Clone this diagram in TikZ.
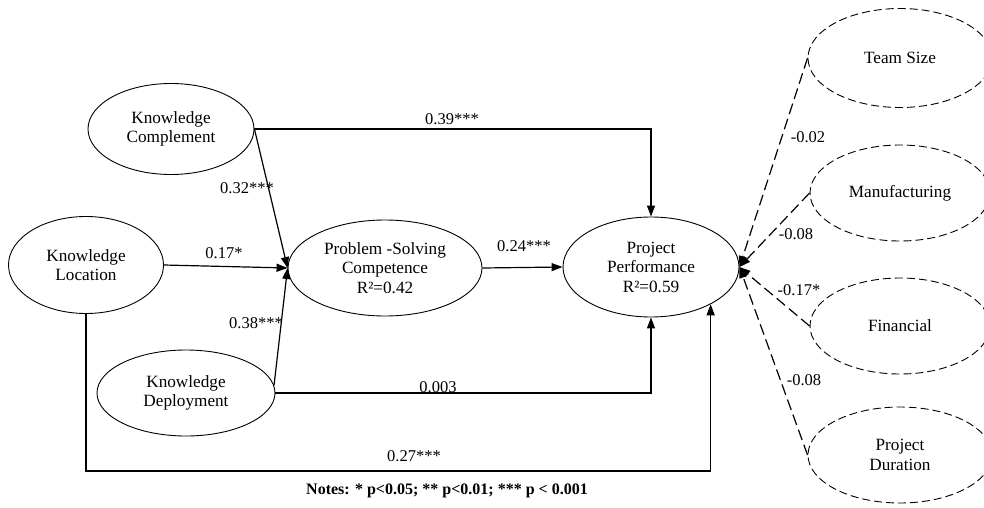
\documentclass[tikz,border=0pt]{standalone}
\usepackage{fontspec}
\setmainfont{Liberation Serif}
\usetikzlibrary{shapes.geometric,arrows.meta}
\begin{document}
\begin{tikzpicture}[x=1pt,y=-1pt,
  ell/.style={draw,ellipse,line width=0.9pt,inner sep=0pt,align=center,font=\fontsize{17.2}{19.5}\selectfont},
  ctl/.style={ell,dash pattern=on 8pt off 4pt},
  arr/.style={line width=1.2pt,-{Triangle[length=11pt,width=8pt]}},
  darr/.style={arr,dash pattern=on 11pt off 5pt},
  lab/.style={inner sep=0pt,font=\fontsize{16.5}{19}\selectfont}]
\useasboundingbox (0,0) rectangle (984,508);
% main constructs
\node[ell,minimum width=166pt,minimum height=91pt] (comp) at (171,129) {Knowledge\\Complement};
\node[ell,minimum width=155pt,minimum height=97pt] (loc) at (86,265) {Knowledge\\Location};
\node[ell,minimum width=178pt,minimum height=86pt] (dep) at (186,393) {Knowledge\\Deployment};
\node[ell,minimum width=194pt,minimum height=96pt] (psc) at (385,268) {Problem -Solving\\Competence\\R²=0.42};
\node[ell,minimum width=176pt,minimum height=100pt] (pp) at (651,267) {Project\\Performance\\R²=0.59};
% controls
\node[ctl,minimum width=184pt,minimum height=99pt] (ts) at (900,58) {Team Size};
\node[ctl,minimum width=180pt,minimum height=96pt] (mf) at (900,193) {Manufacturing};
\node[ctl,minimum width=180pt,minimum height=96pt] (fin) at (900,326) {Financial};
\node[ctl,minimum width=184pt,minimum height=96pt] (dur) at (900,455) {Project\\Duration};
\coordinate (b27) at (0,471);
% paths
\draw[arr] (comp.east) -- (psc.west);
\draw[arr] (comp.east) -| (pp.north);
\draw[arr] (loc.east) -- (psc.west);
\draw[arr] (dep.5) -- (psc.west);
\draw[arr] (dep.east) -| (pp.south);
\draw[arr] (psc.east) -- (pp.west);
\draw[arr] (loc.south) |- (pp.-32 |- b27) -- (pp.-32);
\draw[darr] (ts.west) -- (pp.east);
\draw[darr] (mf.west) -- (pp.east);
\draw[darr] (fin.west) -- (pp.east);
\draw[darr] (dur.west) -- (pp.east);
% labels
\node[lab] (l39) at (452,119) {0.39***};
\node[lab] (l32) at (247,188) {0.32***};
\node[lab] (l17) at (224,253) {0.17*};
\node[lab] (l24) at (524,246) {0.24***};
\node[lab] (l38) at (256,323) {0.38***};
\node[lab] (l003) at (438,387) {0.003};
\node[lab] (l27) at (414,456) {0.27***};
\node[lab] (lts) at (808,137) {-0.02};
\node[lab] (lmf) at (796,234) {-0.08};
\node[lab] (lfin) at (799,290) {-0.17*};
\node[lab] (ldur) at (804,380) {-0.08};
\node[inner sep=0pt,font=\fontsize{16}{18}\selectfont\bfseries] (notes) at (447,491) {Notes: * p<0.05; ** p<0.01; *** p < 0.001};
\end{tikzpicture}
\end{document}
